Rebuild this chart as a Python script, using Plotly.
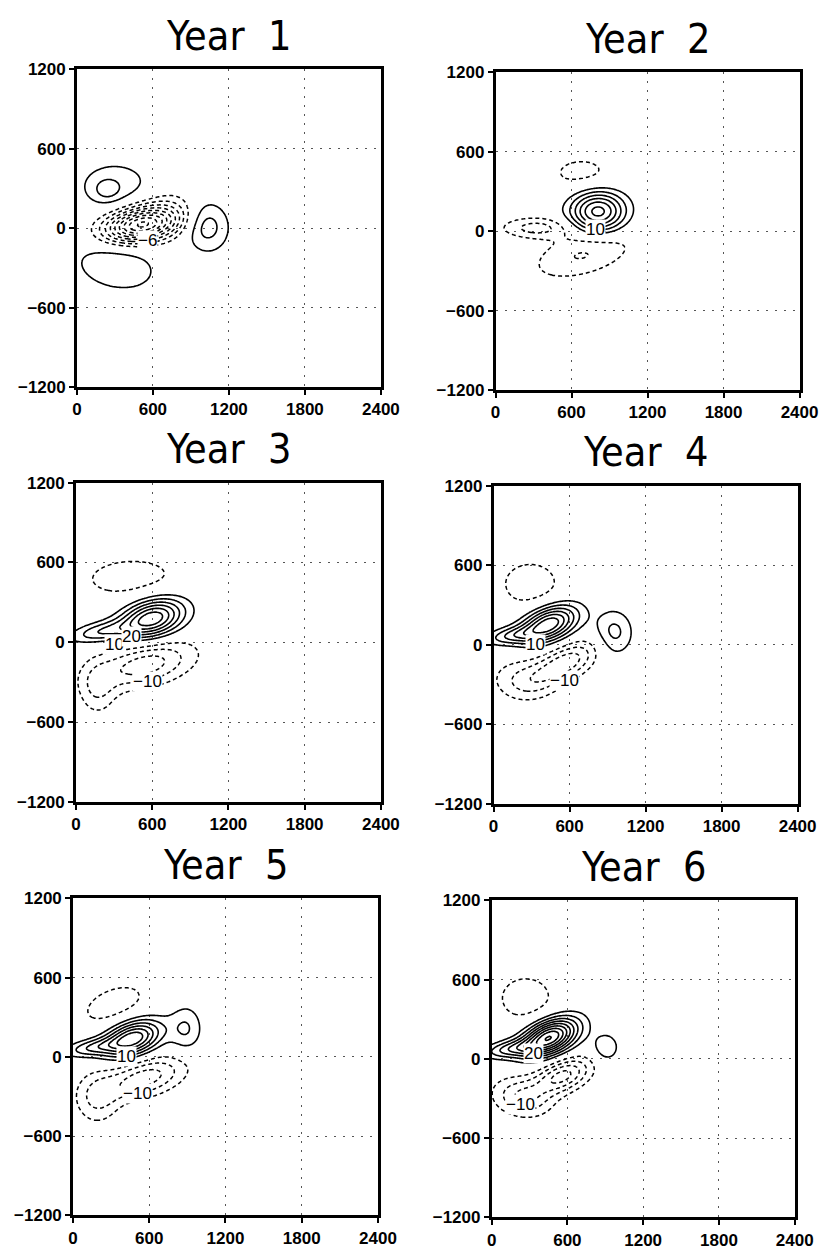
import numpy as np
import plotly.graph_objects as go

W, H = 837, 1254

# ---------------- data ----------------
years = ["Year  1", "Year  2", "Year  3", "Year  4", "Year  5", "Year  6"]
x_ticks = [0, 600, 1200, 1800, 2400]
y_ticks = [-1200, -600, 0, 600, 1200]
contour_interval = [1, 2, 5, 5, 5, 5]

# anomaly centres: [amplitude, x0, y0, sx, sy, tilt_deg]
year1_blobs = [
    [1.2, 235, 290, 70, 55, 0],
    [1.7, 300, 320, 220, 140, 0],
    [1.9, 310, -290, 245, 135, -10],
    [2.7, 1020, 30, 125, 145, 15],
    [-8.0, 500, 20, 200, 85, 8],
    [-2.0, 660, 110, 230, 110, 12],
]
year2_blobs = [
    [-2.8, 680, 435, 210, 110, 0],
    [13.0, 810, 145, 150, 110, 0],
    [-4.8, 320, 25, 190, 55, 0],
    [-4.2, 700, -170, 300, 120, 15],
]
year3_blobs = [
    [-7.5, 420, 490, 320, 130, 3],
    [34.0, 600, 180, 175, 95, 15],
    [14.0, 200, 80, 170, 50, 10],
    [-18.0, 540, -170, 270, 110, 12],
    [-9.0, 170, -350, 100, 140, 0],
]
year4_blobs = [
    [-8.0, 290, 460, 200, 150, 0],
    [34.0, 440, 160, 160, 85, 20],
    [14.0, 150, 70, 150, 45, 8],
    [12.0, 950, 90, 105, 120, 0],
    [-19.0, 560, -140, 190, 85, 25],
    [-10.0, 230, -270, 170, 110, -5],
]
year5_blobs = [
    [-8.0, 320, 400, 220, 110, 20],
    [34.0, 470, 140, 160, 85, 18],
    [14.0, 150, 70, 150, 45, 8],
    [10.0, 890, 210, 90, 125, 0],
    [-18.0, 560, -160, 230, 95, 15],
    [-10.0, 190, -310, 120, 140, 0],
]
year6_blobs = [
    [-8.0, 270, 460, 190, 150, 0],
    [45.0, 460, 165, 160, 85, 22],
    [16.0, 150, 75, 150, 45, 8],
    [9.5, 905, 85, 75, 78, 0],
    [-22.0, 560, -130, 160, 80, 20],
    [-15.0, 240, -290, 160, 100, -10],
]
all_blobs = [year1_blobs, year2_blobs, year3_blobs, year4_blobs, year5_blobs, year6_blobs]

# contour labels shown on the plot: (text, x, y)
contour_labels = [
    [("\u22126", 560, -90)],
    [("10", 790, 15)],
    [("10", 300, -20), ("20", 440, 45), ("\u221210", 565, -295)],
    [("10", 330, 0), ("\u221210", 560, -268)],
    [("10", 420, 0), ("\u221210", 505, -280)],
    [("20", 335, 40), ("\u221210", 232, -347)],
]

# ---------------- layout (pixel boxes of each panel) ----------------
panel_px = [
    (74, 61, 387, 384),
    (505, 64, 818, 387),
    (73, 481, 387, 805),
    (503, 484, 816, 807),
    (70, 903, 384, 1225),
    (501, 905, 813, 1227),
]

xg = np.linspace(0, 2400, 241)
yg = np.linspace(-1200, 1200, 241)
XX, YY = np.meshgrid(xg, yg)


def field(blobs):
    z = np.zeros_like(XX)
    for a, x0, y0, sx, sy, th in blobs:
        t = np.deg2rad(th)
        dx, dy = XX - x0, YY - y0
        u = dx * np.cos(t) + dy * np.sin(t)
        v = -dx * np.sin(t) + dy * np.cos(t)
        z += a * np.exp(-0.5 * ((u / sx) ** 2 + (v / sy) ** 2))
    return z


fig = go.Figure()
annotations = []
tick_font = dict(family="Liberation Sans, Arial, sans-serif", size=17, color="black", weight="bold")
title_font = dict(family="Liberation Sans Narrow, DejaVu Sans Condensed, sans-serif", size=41, color="black")
label_font = dict(family="Liberation Sans, Arial, sans-serif", size=17, color="black")

for i in range(6):
    n = i + 1
    xa = "x" if n == 1 else f"x{n}"
    ya = "y" if n == 1 else f"y{n}"
    Z = field(all_blobs[i])
    iv = contour_interval[i]
    zmax = float(Z.max())
    zmin = float(Z.min())
    pos_end = np.floor(zmax / iv) * iv
    neg_start = np.ceil(zmin / iv) * iv
    if pos_end >= iv:
        fig.add_trace(go.Contour(
            x=xg, y=yg, z=Z, xaxis=xa, yaxis=ya,
            contours=dict(start=iv, end=pos_end, size=iv, coloring="none"),
            line=dict(color="black", width=1.6),
            showscale=False, hoverinfo="skip", autocontour=False))
    if neg_start <= -iv:
        fig.add_trace(go.Contour(
            x=xg, y=yg, z=Z, xaxis=xa, yaxis=ya,
            contours=dict(start=neg_start, end=-iv, size=iv, coloring="none"),
            line=dict(color="black", width=1.5, dash="4px,3px"),
            showscale=False, hoverinfo="skip", autocontour=False))

    x0p, y0p, x1p, y1p = panel_px[i]
    xdom = [x0p / W, x1p / W]
    ydom = [1 - y1p / H, 1 - y0p / H]
    axis_common = dict(
        showline=True, mirror=True, linecolor="black", linewidth=2.5,
        ticks="outside", ticklen=5, tickwidth=2, tickcolor="black",
        showgrid=True, gridcolor="#555555", gridwidth=1, griddash="2px,7px",
        zeroline=False, tickfont=tick_font, fixedrange=True,
    )
    fig.layout[("xaxis" if n == 1 else f"xaxis{n}")] = dict(
        axis_common, domain=xdom, range=[0, 2400], tickvals=x_ticks,
        ticktext=[str(v) for v in x_ticks], anchor=ya)
    fig.layout[("yaxis" if n == 1 else f"yaxis{n}")] = dict(
        axis_common, domain=ydom, range=[-1200, 1200], tickvals=y_ticks,
        ticktext=[("\u2212" + str(-v)) if v < 0 else str(v) for v in y_ticks], anchor=xa)

    annotations.append(dict(
        text=years[i], xref="paper", yref="paper",
        x=(x0p + x1p) / 2 / W, y=1 - (y0p - 34) / H,
        xanchor="center", yanchor="middle", showarrow=False, font=title_font))
    for txt, lx, ly in contour_labels[i]:
        annotations.append(dict(
            text=txt, xref=xa, yref=ya, x=lx, y=ly, showarrow=False,
            font=label_font, bgcolor="white", borderpad=0))

fig.update_layout(
    width=W, height=H, margin=dict(l=0, r=0, t=0, b=0),
    paper_bgcolor="white", plot_bgcolor="white",
    showlegend=False, annotations=annotations,
)

fig.write_html("out.html")
